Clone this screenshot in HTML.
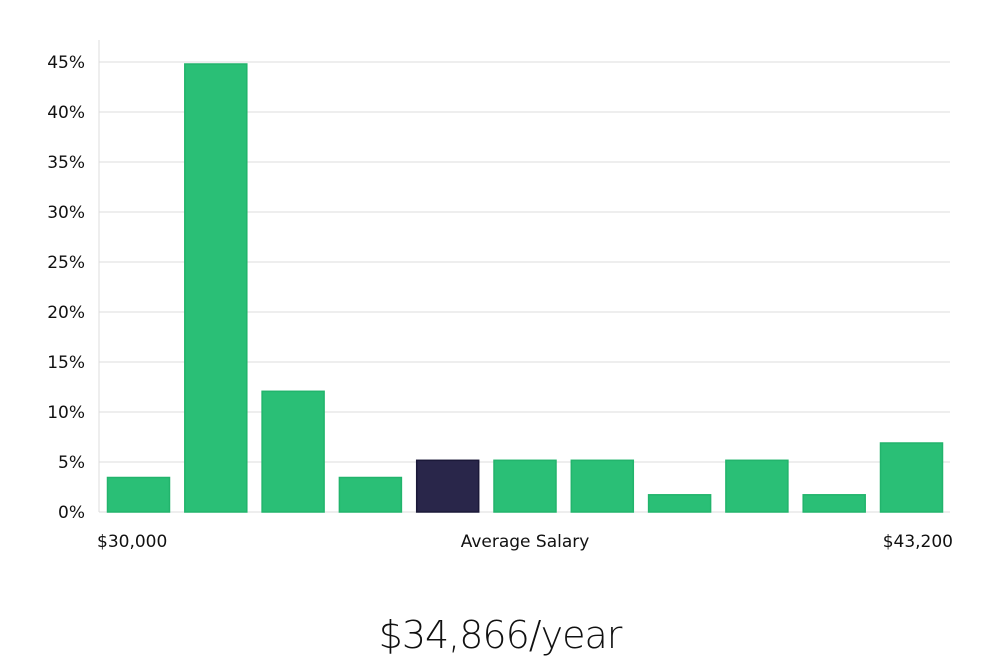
<!DOCTYPE html>
<html><head><meta charset="utf-8"><style>
body{margin:0;background:#fff;width:1000px;height:660px;overflow:hidden}
svg text{font-family:"DejaVu Sans","Liberation Sans",sans-serif}
</style></head><body>
<svg id="c" width="1000" height="660"></svg>
<script>
const values=[3.45,44.8,12.07,3.45,5.17,5.17,5.17,1.72,5.17,1.72,6.9];
const highlight=[false,false,false,false,true,false,false,false,false,false,false];
const yTicks=[0,5,10,15,20,25,30,35,40,45];
const xLabels=["$30,000","Average Salary","$43,200"];
const ns="http://www.w3.org/2000/svg";
const svg=document.getElementById('c');
const x0=99,x1=950,y0=512,pxPerPct=10;
const y=v=>y0-v*pxPerPct;
const pitch=77.3,bw=62,start=107;
const xb=i=>start+i*pitch;
function mk(t,a){const e=document.createElementNS(ns,t);for(const k in a)e.setAttribute(k,a[k]);svg.appendChild(e);return e;}
yTicks.forEach(t=>{
  const l=mk('line',{x1:x0,x2:x1,y1:y(t),y2:y(t),stroke:'#dcdcdc','stroke-width':1});
  
  
  const tx=mk('text',{x:85,y:y(t)+6,'text-anchor':'end','font-size':17,fill:'#111'});
  tx.textContent=t+'%';
  
  
});
const ax=mk('line',{x1:x0,x2:x0,y1:40,y2:y0,stroke:'#dcdcdc'});


values.forEach((v,i)=>{
  const r=mk('rect',{x:xb(i)+0.5,y:y(v),width:bw,height:y0-y(v),fill:highlight[i]?'#29264a':'#2abf76',stroke:highlight[i]?'#1a1838':'#22b46c','stroke-width':1.5});
  
  
});
const pos=[[97,'start'],[525,'middle'],[953,'end']];
xLabels.forEach((s,i)=>{
  const t=mk('text',{x:pos[i][0],y:547,'text-anchor':pos[i][1],'font-size':17,fill:'#111'});
  t.textContent=s;
  
  
});
const tt=mk('text',{x:500,y:648,'text-anchor':'middle','font-size':38,fill:'#111','font-weight':300});
tt.style.fontFamily='"DejaVu Sans","Liberation Sans",sans-serif';
tt.style.letterSpacing='-1px';
tt.textContent='$34,866/year';


</script>
</body></html>
